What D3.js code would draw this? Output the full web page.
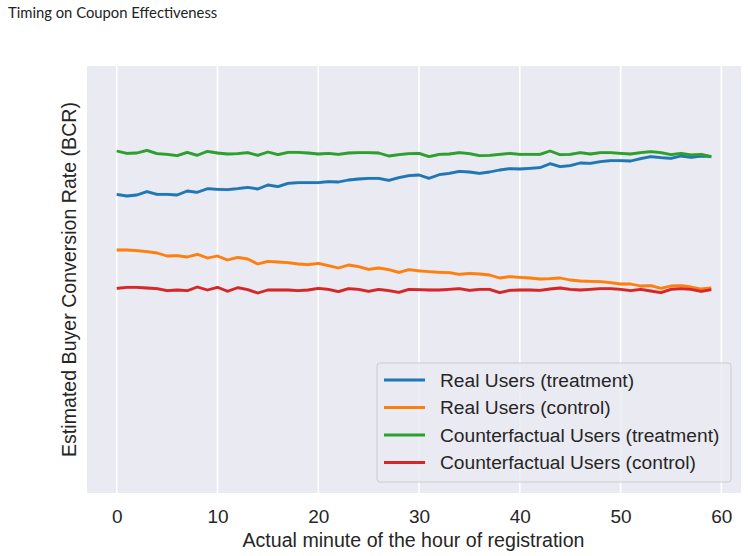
<!DOCTYPE html>
<html><head><meta charset="utf-8">
<script src="https://cdn.jsdelivr.net/npm/d3@7"></script>
<style>body{margin:0;background:#fff}svg{display:block}</style>
</head><body><svg id="c" width="748" height="556"></svg>
<script>
const minutes = d3.range(0, 60);
const realTreatment = [29.87,29.70,29.80,30.13,29.87,29.87,29.80,30.20,30.07,30.43,30.37,30.33,30.43,30.57,30.40,30.80,30.63,30.97,31.03,31.03,31.03,31.13,31.10,31.30,31.40,31.47,31.47,31.27,31.53,31.73,31.80,31.47,31.83,31.97,32.17,32.10,31.97,32.10,32.30,32.43,32.40,32.47,32.53,32.93,32.63,32.73,33.00,32.97,33.13,33.23,33.23,33.20,33.43,33.63,33.53,33.47,33.70,33.57,33.70,33.63];
const realControl = [24.30,24.30,24.23,24.13,24.00,23.70,23.73,23.60,23.87,23.50,23.70,23.30,23.57,23.40,22.90,23.17,23.10,23.03,22.90,22.83,22.97,22.73,22.50,22.80,22.63,22.37,22.50,22.33,22.07,22.33,22.22,22.13,22.07,22.03,21.87,21.97,21.90,21.80,21.50,21.63,21.57,21.50,21.40,21.43,21.50,21.30,21.20,21.17,21.13,21.03,20.90,20.90,20.70,20.73,20.47,20.70,20.73,20.60,20.40,20.50];
const cfTreatment = [34.20,33.97,34.00,34.27,33.93,33.87,33.73,34.07,33.77,34.17,34.00,33.90,33.93,34.03,33.77,34.10,33.83,34.07,34.07,34.00,33.90,33.97,33.87,34.00,34.03,34.03,34.00,33.70,33.83,33.93,33.97,33.63,33.87,33.90,34.03,33.93,33.73,33.77,33.87,33.97,33.87,33.87,33.87,34.20,33.83,33.87,34.03,33.90,34.03,34.03,33.97,33.90,34.03,34.13,34.03,33.83,33.97,33.80,33.87,33.63];
const cfControl = [20.47,20.57,20.57,20.50,20.43,20.23,20.30,20.23,20.60,20.30,20.57,20.17,20.53,20.33,20.00,20.30,20.30,20.30,20.23,20.30,20.47,20.37,20.13,20.43,20.37,20.17,20.37,20.23,20.07,20.37,20.33,20.30,20.30,20.37,20.43,20.27,20.37,20.37,20.03,20.27,20.30,20.30,20.27,20.40,20.50,20.37,20.30,20.37,20.43,20.43,20.37,20.23,20.37,20.20,20.03,20.37,20.43,20.37,20.17,20.33];
const seriesNames = ["Real Users (treatment)","Real Users (control)","Counterfactual Users (treatment)","Counterfactual Users (control)"];
const seriesColors = ["#1f77b4","#ff7f0e","#2ca02c","#d62728"];
const xTicks = [0,10,20,30,40,50,60];
const title = "Timing on Coupon Effectiveness";
const xLabel = "Actual minute of the hour of registration";
const yLabel = "Estimated Buyer Conversion Rate (BCR)";

const seriesData = [realTreatment, realControl, cfTreatment, cfControl];
const svg = d3.select("#c");
const L = 87, R = 741, T = 66, B = 493;
const FONT = "'Liberation Sans',Arial,sans-serif";
const x = d3.scaleLinear().domain([-2.95, 61.95]).range([L, R]);
const y = d3.scaleLinear().domain([0, 42.7]).range([B, T]);

svg.append("text").attr("x", 8).attr("y", 18)
  .attr("font-family", "'Linux Biolinum O','Lato','Open Sans',sans-serif")
  .attr("font-size", 14.8).attr("fill", "#222").text(title);

svg.append("rect").attr("x", L).attr("y", T).attr("width", R - L).attr("height", B - T).attr("fill", "#eaeaf2");

const xAxis = d3.axisBottom(x).tickValues(xTicks).tickSize(0).tickPadding(17).tickFormat(d3.format("d"));
const gx = svg.append("g").attr("transform", `translate(0,${B})`).call(xAxis);
gx.select(".domain").remove();
gx.selectAll("text").attr("font-family", FONT).attr("font-size", 19).attr("fill", "#262626");

svg.append("g").selectAll("line").data(xTicks).join("line")
  .attr("x1", d => x(d)).attr("x2", d => x(d)).attr("y1", T).attr("y2", B)
  .attr("stroke", "#fff").attr("stroke-width", 1.6);

const band = d3.area().x((d, i) => x(minutes[i])).y0(d => y(d - 0.16)).y1(d => y(d + 0.16));
const line = d3.line().x((d, i) => x(minutes[i])).y(d => y(d));
seriesData.forEach((s, k) => {
  svg.append("path").datum(s).attr("d", band).attr("fill", seriesColors[k]).attr("opacity", 0.22);
});
seriesData.forEach((s, k) => {
  svg.append("path").datum(s).attr("d", line).attr("fill", "none")
    .attr("stroke", seriesColors[k]).attr("stroke-width", 2.8).attr("stroke-linejoin", "round");
});

svg.append("text").attr("x", (L + R) / 2 - 0.5).attr("y", 547).attr("text-anchor", "middle")
  .attr("font-family", FONT).attr("font-size", 19.6).attr("fill", "#262626").text(xLabel);
svg.append("text").attr("transform", `translate(76,${(T + B) / 2}) rotate(-90)`).attr("text-anchor", "middle")
  .attr("font-family", FONT).attr("font-size", 19.6).attr("fill", "#262626").text(yLabel);

const lg = svg.append("g").attr("transform", "translate(377,363)");
lg.append("rect").attr("width", 354).attr("height", 119).attr("rx", 3)
  .attr("fill", "#eaeaf2").attr("fill-opacity", 0.8).attr("stroke", "#cccccc").attr("stroke-width", 1);
seriesNames.forEach((n, k) => {
  const yy = 17 + k * 27.5;
  lg.append("line").attr("x1", 7).attr("x2", 48).attr("y1", yy).attr("y2", yy)
    .attr("stroke", seriesColors[k]).attr("stroke-width", 2.8);
  lg.append("text").attr("x", 63).attr("y", yy).attr("dy", "0.35em")
    .attr("font-family", FONT).attr("font-size", 19.2).attr("fill", "#262626").text(n);
});
</script></body></html>
